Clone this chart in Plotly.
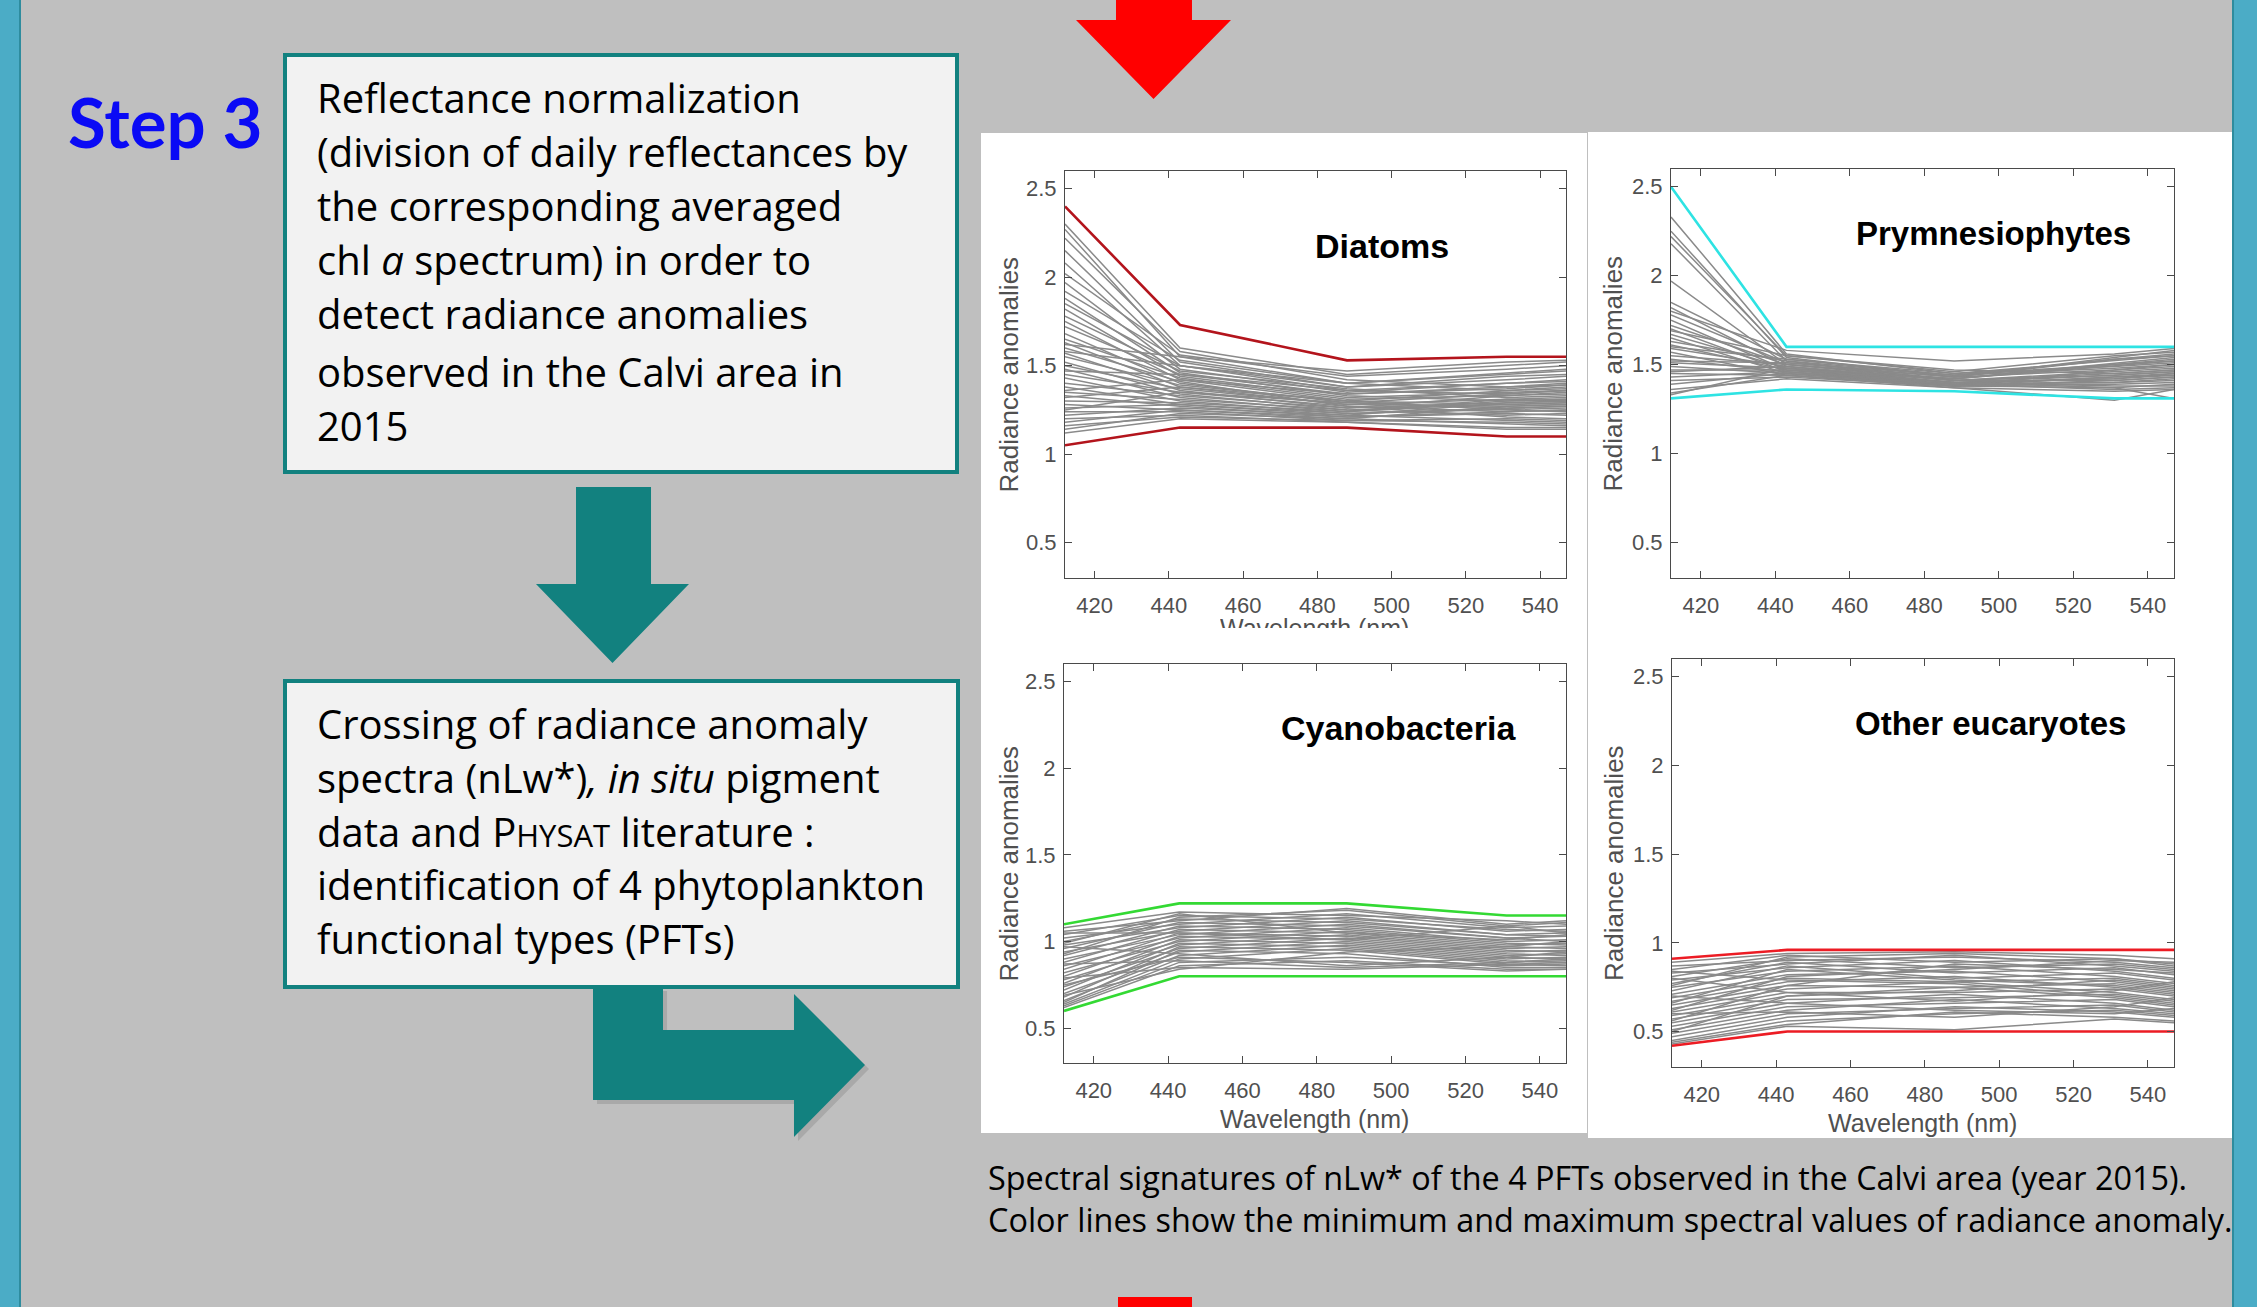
import plotly.graph_objects as go

W, H = 2257, 1307

# ---------------- data ----------------
wavelengths = [412, 443, 488, 531, 547]
x_ticks = [420, 440, 460, 480, 500, 520, 540]
y_ticks = [0.5, 1, 1.5, 2, 2.5]
y_tick_labels = ["0.5", "1", "1.5", "2", "2.5"]
pft_names = ["Diatoms", "Prymnesiophytes", "Cyanobacteria", "Other eucaryotes"]

diatoms_max = [2.40, 1.73, 1.53, 1.55, 1.55]
diatoms_min = [1.05, 1.15, 1.15, 1.10, 1.10]
diatoms_days = [
    [2.30, 1.60, 1.45, 1.50, 1.52], [2.27, 1.55, 1.40, 1.45, 1.47], [2.22, 1.58, 1.42, 1.38, 1.40],
    [2.15, 1.52, 1.38, 1.42, 1.44], [2.08, 1.50, 1.36, 1.34, 1.36], [2.02, 1.56, 1.44, 1.48, 1.50],
    [1.97, 1.48, 1.35, 1.40, 1.41], [1.92, 1.53, 1.40, 1.36, 1.37], [1.88, 1.46, 1.33, 1.30, 1.31],
    [1.85, 1.50, 1.38, 1.44, 1.45], [1.82, 1.44, 1.32, 1.35, 1.36], [1.78, 1.47, 1.37, 1.32, 1.33],
    [1.75, 1.42, 1.30, 1.28, 1.29], [1.72, 1.45, 1.34, 1.38, 1.39], [1.68, 1.40, 1.29, 1.26, 1.27],
    [1.65, 1.43, 1.31, 1.33, 1.34], [1.63, 1.38, 1.28, 1.31, 1.30], [1.60, 1.41, 1.27, 1.24, 1.25],
    [1.57, 1.36, 1.26, 1.29, 1.30], [1.55, 1.39, 1.30, 1.36, 1.38], [1.52, 1.34, 1.25, 1.22, 1.23],
    [1.50, 1.37, 1.28, 1.27, 1.28], [1.48, 1.32, 1.24, 1.30, 1.31], [1.45, 1.35, 1.27, 1.21, 1.20],
    [1.43, 1.30, 1.23, 1.25, 1.26], [1.40, 1.33, 1.26, 1.33, 1.35], [1.38, 1.28, 1.22, 1.19, 1.18],
    [1.35, 1.31, 1.25, 1.28, 1.29], [1.33, 1.27, 1.21, 1.23, 1.22], [1.30, 1.29, 1.24, 1.31, 1.32],
    [1.28, 1.25, 1.20, 1.17, 1.16], [1.26, 1.28, 1.23, 1.26, 1.27], [1.24, 1.24, 1.19, 1.20, 1.19],
    [1.22, 1.26, 1.22, 1.29, 1.30], [1.20, 1.22, 1.18, 1.15, 1.15], [1.18, 1.25, 1.21, 1.24, 1.25],
    [1.16, 1.21, 1.19, 1.18, 1.17], [1.14, 1.23, 1.20, 1.27, 1.28], [1.12, 1.20, 1.18, 1.14, 1.14],
    [1.62, 1.55, 1.47, 1.52, 1.53], [1.58, 1.50, 1.40, 1.46, 1.48], [1.47, 1.45, 1.36, 1.40, 1.42],
    [1.36, 1.42, 1.34, 1.37, 1.39], [1.32, 1.38, 1.30, 1.25, 1.24], [1.25, 1.35, 1.29, 1.34, 1.36],
]

prym_max = [2.50, 1.60, 1.60, 1.60, 1.60]
prym_min = [1.31, 1.36, 1.35, 1.31, 1.31]
prym_days = [
    [2.33, 1.56, 1.45, 1.52, 1.55], [2.25, 1.54, 1.43, 1.47, 1.50], [2.22, 1.55, 1.46, 1.55, 1.57],
    [2.18, 1.52, 1.41, 1.44, 1.46], [1.97, 1.50, 1.42, 1.49, 1.52], [1.85, 1.53, 1.44, 1.50, 1.53],
    [1.82, 1.49, 1.40, 1.42, 1.45], [1.78, 1.51, 1.43, 1.53, 1.56], [1.75, 1.47, 1.39, 1.40, 1.42],
    [1.72, 1.50, 1.41, 1.46, 1.48], [1.70, 1.46, 1.38, 1.37, 1.39], [1.67, 1.48, 1.42, 1.51, 1.54],
    [1.65, 1.45, 1.39, 1.43, 1.44], [1.63, 1.52, 1.44, 1.48, 1.50], [1.61, 1.47, 1.40, 1.38, 1.38],
    [1.59, 1.49, 1.41, 1.45, 1.47], [1.57, 1.44, 1.38, 1.41, 1.43], [1.55, 1.50, 1.43, 1.54, 1.58],
    [1.53, 1.46, 1.39, 1.36, 1.37], [1.51, 1.48, 1.40, 1.44, 1.46], [1.49, 1.45, 1.38, 1.39, 1.40],
    [1.47, 1.47, 1.42, 1.50, 1.52], [1.45, 1.44, 1.37, 1.35, 1.36], [1.43, 1.46, 1.40, 1.42, 1.44],
    [1.41, 1.43, 1.38, 1.47, 1.49], [1.39, 1.45, 1.39, 1.40, 1.41], [1.36, 1.42, 1.37, 1.30, 1.36],
    [1.34, 1.44, 1.38, 1.43, 1.45], [1.33, 1.48, 1.40, 1.37, 1.31], [1.80, 1.58, 1.52, 1.56, 1.59],
    [1.69, 1.55, 1.47, 1.45, 1.47], [1.60, 1.53, 1.45, 1.49, 1.51], [1.52, 1.51, 1.44, 1.53, 1.55],
    [1.46, 1.49, 1.41, 1.41, 1.43],
]

cyano_max = [1.10, 1.22, 1.22, 1.15, 1.15]
cyano_min = [0.60, 0.80, 0.80, 0.80, 0.80]
cyano_days = [
    [1.08, 1.17, 1.15, 1.12, 1.10], [1.06, 1.12, 1.19, 1.10, 1.12], [1.04, 1.15, 1.13, 1.07, 1.06],
    [1.02, 1.10, 1.16, 1.08, 1.09], [1.00, 1.13, 1.11, 1.04, 1.03], [0.98, 1.08, 1.14, 1.06, 1.07],
    [0.96, 1.11, 1.09, 1.02, 1.00], [0.94, 1.06, 1.12, 1.04, 1.05], [0.92, 1.09, 1.07, 0.99, 0.98],
    [0.90, 1.04, 1.10, 1.02, 1.03], [0.88, 1.07, 1.05, 0.97, 0.96], [0.86, 1.02, 1.08, 1.00, 1.01],
    [0.84, 1.05, 1.03, 0.95, 0.94], [0.82, 1.00, 1.06, 0.98, 0.99], [0.80, 1.03, 1.01, 0.93, 0.92],
    [0.78, 0.98, 1.04, 0.96, 0.97], [0.76, 1.01, 0.99, 0.91, 0.90], [0.74, 0.96, 1.02, 0.94, 0.95],
    [0.72, 0.99, 0.97, 0.89, 0.88], [0.70, 0.94, 1.00, 0.92, 0.93], [0.68, 0.97, 0.95, 0.87, 0.86],
    [0.66, 0.92, 0.98, 0.90, 0.91], [0.65, 0.95, 0.93, 0.85, 0.85], [0.64, 0.90, 0.96, 0.88, 0.89],
    [0.63, 0.88, 0.91, 0.86, 0.87], [0.62, 0.86, 0.89, 0.84, 0.84], [0.97, 0.93, 0.86, 0.91, 0.94],
    [0.87, 0.89, 0.85, 0.88, 0.90], [0.79, 0.85, 0.84, 0.87, 0.88], [1.05, 1.05, 1.01, 1.09, 1.11],
    [0.93, 1.14, 1.18, 1.09, 1.05], [0.75, 0.91, 0.88, 0.83, 0.84], [0.69, 0.84, 0.94, 0.97, 1.00],
    [0.99, 1.16, 1.05, 1.01, 1.04],
]

other_max = [0.91, 0.96, 0.96, 0.96, 0.96]
other_min = [0.42, 0.50, 0.50, 0.50, 0.50]
other_days = [
    [0.89, 0.94, 0.95, 0.93, 0.91], [0.87, 0.90, 0.92, 0.89, 0.86], [0.85, 0.93, 0.89, 0.91, 0.88],
    [0.83, 0.88, 0.93, 0.87, 0.84], [0.81, 0.91, 0.86, 0.88, 0.85], [0.79, 0.86, 0.90, 0.84, 0.80],
    [0.77, 0.89, 0.83, 0.86, 0.82], [0.75, 0.84, 0.87, 0.81, 0.77], [0.73, 0.87, 0.80, 0.83, 0.79],
    [0.71, 0.82, 0.84, 0.78, 0.74], [0.69, 0.80, 0.78, 0.80, 0.76], [0.67, 0.78, 0.81, 0.75, 0.71],
    [0.65, 0.76, 0.75, 0.77, 0.73], [0.63, 0.74, 0.78, 0.72, 0.68], [0.61, 0.72, 0.72, 0.74, 0.70],
    [0.59, 0.70, 0.75, 0.69, 0.65], [0.57, 0.68, 0.69, 0.71, 0.67], [0.55, 0.66, 0.71, 0.66, 0.62],
    [0.53, 0.64, 0.66, 0.68, 0.64], [0.51, 0.62, 0.68, 0.63, 0.60], [0.49, 0.60, 0.63, 0.65, 0.61],
    [0.47, 0.58, 0.64, 0.61, 0.58], [0.45, 0.56, 0.60, 0.62, 0.59], [0.44, 0.54, 0.61, 0.58, 0.56],
    [0.43, 0.53, 0.51, 0.57, 0.55], [0.80, 0.72, 0.67, 0.73, 0.78], [0.70, 0.66, 0.62, 0.60, 0.63],
    [0.62, 0.81, 0.85, 0.90, 0.89], [0.56, 0.76, 0.88, 0.85, 0.83], [0.76, 0.92, 0.94, 0.91, 0.87],
    [0.66, 0.85, 0.79, 0.76, 0.72], [0.50, 0.70, 0.73, 0.79, 0.75], [0.84, 0.79, 0.77, 0.70, 0.66],
    [0.60, 0.61, 0.58, 0.64, 0.69],
]

box1_lines = [
    "Reflectance normalization",
    "(division of daily reflectances by",
    "the corresponding averaged",
    "chl <i>a</i> spectrum) in order to",
    "detect radiance anomalies",
    "observed in the Calvi area in",
    "2015",
]
box2_lines = [
    "Crossing of radiance anomaly",
    "spectra (nLw*)<i>, in situ</i> pigment",
    "data and P<span style='font-size:31px'>HYSAT</span> literature :",
    "identification of 4 phytoplankton",
    "functional types (PFTs)",
]
caption_lines = [
    "Spectral signatures of nLw* of the 4 PFTs observed in the Calvi area (year 2015).",
    "Color lines show the minimum and maximum spectral values of radiance anomaly.",
]

# ---------------- helpers ----------------
def px(x):
    return x / W

def py(y):
    return 1 - y / H

def poly(points):
    return "M " + " L ".join(f"{px(a):.5f},{py(b):.5f}" for a, b in points) + " Z"

def rect(x0, y0, x1, y1, fill, line_color=None, lw=0, layer="below"):
    return dict(type="rect", xref="paper", yref="paper",
                x0=px(x0), x1=px(x1), y0=py(y1), y1=py(y0),
                fillcolor=fill, line=dict(color=line_color or fill, width=lw), layer=layer)

BG = "#BFBFBF"
TEAL = "#12817F"
BLUE_BAR = "#4BACC6"
GRAY = "#8A8A8A"
AX = "#4A4A4A"
SANS = "Liberation Sans, Arial, sans-serif"
BODY = "Open Sans, Lato, sans-serif"

panels = [
    dict(name=pft_names[0], days=diatoms_days, mx=diatoms_max, mn=diatoms_min, color="#B3141C",
         box=(1065, 171, 1566, 578), label=(1382, 258), ytitle_x=1009, xtitle=None),
    dict(name=pft_names[1], days=prym_days, mx=prym_max, mn=prym_min, color="#2EE3E3",
         box=(1671, 169, 2174, 578), label=(1993, 245), ytitle_x=1613, xtitle=None),
    dict(name=pft_names[2], days=cyano_days, mx=cyano_max, mn=cyano_min, color="#33D933",
         box=(1064, 664, 1566, 1063), label=(1398, 740), ytitle_x=1008, xtitle=(1314, 1128)),
    dict(name=pft_names[3], days=other_days, mx=other_max, mn=other_min, color="#EC1C24",
         box=(1672, 659, 2174, 1067), label=(1990, 735), ytitle_x=1614, xtitle=(1922, 1132)),
]
label_sizes = [34, 33, 34, 33]

fig = go.Figure()
layout_axes = {}
annotations = []

for i, p in enumerate(panels, start=1):
    xa = "x" if i == 1 else f"x{i}"
    ya = "y" if i == 1 else f"y{i}"
    for d in p["days"]:
        fig.add_trace(go.Scatter(x=wavelengths, y=d, mode="lines",
                                 line=dict(color=GRAY, width=1.5),
                                 xaxis=xa, yaxis=ya, hoverinfo="skip", showlegend=False))
    for series in (p["mx"], p["mn"]):
        fig.add_trace(go.Scatter(x=wavelengths, y=series, mode="lines",
                                 line=dict(color=p["color"], width=2.6),
                                 xaxis=xa, yaxis=ya, hoverinfo="skip", showlegend=False))
    x0, y0, x1, y1 = p["box"]
    common = dict(ticks="inside", ticklen=7, tickwidth=1, tickcolor=AX, showline=True,
                  linecolor=AX, linewidth=1.2, mirror="ticks", showgrid=False, zeroline=False,
                  tickfont=dict(family=SANS, size=22, color="#505050"))
    layout_axes["xaxis" if i == 1 else f"xaxis{i}"] = dict(
        domain=[px(x0), px(x1)], anchor=ya, range=[412, 547], tickvals=x_ticks,
        ticklabelstandoff=7, **common)
    layout_axes["yaxis" if i == 1 else f"yaxis{i}"] = dict(
        domain=[py(y1), py(y0)], anchor=xa, range=[0.3, 2.6], tickvals=y_ticks,
        ticktext=y_tick_labels, ticklabelstandoff=3, **common)
    ls = label_sizes[i - 1]
    lx, lb = p["label"]
    annotations.append(dict(text=f"<b>{p['name']}</b>", x=px(lx), y=py(lb - 0.35 * ls),
                            xref="paper", yref="paper", xanchor="center", yanchor="middle",
                            showarrow=False, font=dict(family=SANS, size=ls, color="black")))
    annotations.append(dict(text="Radiance anomalies", x=px(p["ytitle_x"]), y=py((y0 + y1) / 2),
                            xref="paper", yref="paper", xanchor="center", yanchor="middle",
                            textangle=-90, showarrow=False,
                            font=dict(family=SANS, size=26, color="#505050")))
    if p["xtitle"]:
        tx, tb = p["xtitle"]
        annotations.append(dict(text="Wavelength (nm)", x=px(tx), y=py(tb - 0.35 * 25),
                                xref="paper", yref="paper", xanchor="center", yanchor="middle",
                                showarrow=False, font=dict(family=SANS, size=25, color="#505050")))

# x title of the top-left panel, cut off by the panel below it (only its top shows)
annotations.append(dict(text="Wavelength (nm)", x=px(1314), y=py(612), xref="paper", yref="paper",
                        xanchor="center", yanchor="top", valign="top", height=14,
                        showarrow=False, font=dict(family=SANS, size=25, color="#505050")))

# ---------------- decorations ----------------
shapes = [
    rect(981, 133, 1587, 1133, "white"),
    rect(1588, 132, 2232, 1138, "white"),
    rect(0, 0, 19, H, BLUE_BAR),
    rect(19, 0, 21, H, "#2E8C9E"),
    rect(2232, 0, W, H, BLUE_BAR, layer="above"),
    rect(2232, 0, 2234, H, "#2E8C9E", layer="above"),
    dict(type="path", xref="paper", yref="paper", layer="below", fillcolor="#A9A9A9",
         line=dict(width=0),
         path=poly([(597, 991), (667, 991), (667, 1034), (798, 1034), (798, 998), (869, 1069),
                    (798, 1141), (798, 1104), (597, 1104)])),
    dict(type="path", xref="paper", yref="paper", layer="below", fillcolor=TEAL,
         line=dict(width=0),
         path=poly([(593, 985), (663, 985), (663, 1030), (794, 1030), (794, 994), (865, 1065),
                    (794, 1137), (794, 1100), (593, 1100)])),
    dict(type="path", xref="paper", yref="paper", layer="below", fillcolor=TEAL,
         line=dict(width=0),
         path=poly([(576, 487), (651, 487), (651, 584), (689, 584), (612.5, 663), (536, 584),
                    (576, 584)])),
    rect(285, 55, 957, 472, "#F2F2F2", TEAL, 4),
    rect(285, 681, 958, 987, "#F2F2F2", TEAL, 4),
    dict(type="path", xref="paper", yref="paper", layer="below", fillcolor="#FF0000",
         line=dict(width=0),
         path=poly([(1116, 0), (1192, 0), (1192, 20), (1231, 20), (1153.5, 99), (1076, 20),
                    (1116, 20)])),
    rect(1118, 1297, 1192, H, "#FF0000"),
]

BODY_SIZE = 40
box1_baselines = [113, 167, 221, 275, 329, 387, 441]
for t, b in zip(box1_lines, box1_baselines):
    annotations.append(dict(text=t, x=px(315), y=py(b - 0.388 * BODY_SIZE), xref="paper",
                            yref="paper", xanchor="left", yanchor="middle", showarrow=False,
                            font=dict(family=BODY, size=BODY_SIZE, color="black")))
box2_baselines = [739, 793, 847, 900, 954]
for t, b in zip(box2_lines, box2_baselines):
    annotations.append(dict(text=t, x=px(315), y=py(b - 0.388 * BODY_SIZE), xref="paper",
                            yref="paper", xanchor="left", yanchor="middle", showarrow=False,
                            font=dict(family=BODY, size=BODY_SIZE, color="black")))

# caption: one two-line annotation (line pitch = 1.3 * font size)
CAP_SIZE = 32.4
cap_mid = (1191 + 1231) / 2 - 0.388 * CAP_SIZE
annotations.append(dict(text="<br>".join(caption_lines), x=px(986), y=py(cap_mid), xref="paper",
                        yref="paper", xanchor="left", yanchor="middle", align="left",
                        showarrow=False, font=dict(family=BODY, size=CAP_SIZE, color="black")))
annotations.append(dict(text="<b>Step 3</b>", x=px(66), y=py(148 - 0.387 * 69), xref="paper",
                        yref="paper", xanchor="left", yanchor="middle", showarrow=False,
                        font=dict(family="Lato, sans-serif", size=69, color="#0A0AF5")))

fig.update_layout(
    width=W, height=H, margin=dict(l=0, r=0, t=0, b=0),
    paper_bgcolor=BG, plot_bgcolor="white", showlegend=False,
    shapes=shapes, annotations=annotations, **layout_axes,
)

fig.write_html("out.html", config={"displayModeBar": False},
               post_script="document.body.style.margin='0';document.body.style.overflow='hidden';")
